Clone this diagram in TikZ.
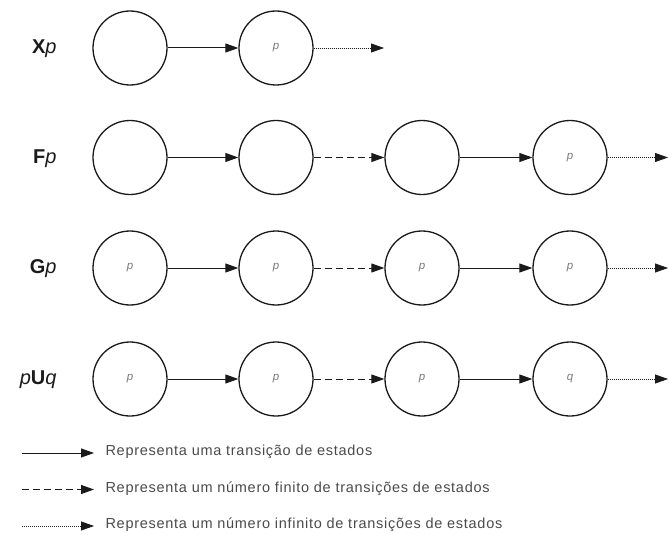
\documentclass[tikz,border=0pt]{standalone}
\usepackage{fontspec}
\setmainfont{Liberation Sans}
\newfontfamily\legendfont[LetterSpace=5]{Liberation Sans}
\usetikzlibrary{arrows.meta}
\definecolor{ink}{HTML}{1A1A1A}
\definecolor{softink}{HTML}{7A7A7A}
\definecolor{legendink}{HTML}{4A4A4A}
\tikzset{
  world/.style={circle, draw=ink, line width=1.3pt, minimum size=74pt, inner sep=0pt,
    font=\fontsize{11.5}{13}\selectfont\itshape, text=softink},
  tip/.style={-{Triangle[length=13pt,width=9pt]}},
  onestep/.style={tip, draw=ink, line width=1pt},
  finitesteps/.style={tip, draw=ink, line width=1pt, dash pattern=on 7pt off 4pt},
  infinitesteps/.style={tip, draw=ink, line width=0.8pt, dash pattern=on 1pt off 1pt},
  rowlabel/.style={anchor=east, font=\fontsize{20}{23}\selectfont, text=ink},
  legendtext/.style={anchor=west, font=\legendfont\fontsize{14.5}{17}\selectfont, text=legendink}
}
\begin{document}
\begin{tikzpicture}[x=1pt,y=-1pt]
\useasboundingbox (0,0) rectangle (670,535);

% X p
\node[rowlabel] (lx) at (60,49) {\textbf{X}\textit{p}};
\node[world] (x1) at (130,48) {};
\node[world] (x2) at (276,48) {p};
\coordinate (xe) at (384,48);
\draw[onestep] (x1) -- (x2);
\draw[infinitesteps] (x2) -- (xe);

% F p
\node[rowlabel] (lf) at (60,158.5) {\textbf{F}\textit{p}};
\node[world] (f1) at (130,157.5) {};
\node[world] (f2) at (276,157.5) {};
\node[world] (f3) at (422,157.5) {};
\node[world] (f4) at (570,157.5) {p};
\coordinate (fe) at (668,157.5);
\draw[onestep] (f1) -- (f2);
\draw[finitesteps] (f2) -- (f3);
\draw[onestep] (f3) -- (f4);
\draw[infinitesteps] (f4) -- (fe);

% G p
\node[rowlabel] (lg) at (60,269) {\textbf{G}\textit{p}};
\node[world] (g1) at (130,268) {p};
\node[world] (g2) at (276,268) {p};
\node[world] (g3) at (422,268) {p};
\node[world] (g4) at (570,268) {p};
\coordinate (ge) at (668,268);
\draw[onestep] (g1) -- (g2);
\draw[finitesteps] (g2) -- (g3);
\draw[onestep] (g3) -- (g4);
\draw[infinitesteps] (g4) -- (ge);

% p U q
\node[rowlabel] (lu) at (60,380) {\textit{p}\textbf{U}\textit{q}};
\node[world] (u1) at (130,379) {p};
\node[world] (u2) at (276,379) {p};
\node[world] (u3) at (422,379) {p};
\node[world] (u4) at (570,379) {q};
\coordinate (ue) at (668,379);
\draw[onestep] (u1) -- (u2);
\draw[finitesteps] (u2) -- (u3);
\draw[onestep] (u3) -- (u4);
\draw[infinitesteps] (u4) -- (ue);

% legend
\coordinate (k1s) at (22,453);
\coordinate (k1e) at (94,453);
\coordinate (k2s) at (22,489.5);
\coordinate (k2e) at (94,489.5);
\coordinate (k3s) at (22,526);
\coordinate (k3e) at (94,526);
\draw[onestep] (k1s) -- (k1e);
\draw[finitesteps] (k2s) -- (k2e);
\draw[infinitesteps] (k3s) -- (k3e);
\node[legendtext] (t1) at (102,452) {Representa uma transição de estados};
\node[legendtext] (t2) at (102,488.5) {Representa um número finito de transições de estados};
\node[legendtext] (t3) at (102,525) {Representa um número infinito de transições de estados};
\end{tikzpicture}
\end{document}
